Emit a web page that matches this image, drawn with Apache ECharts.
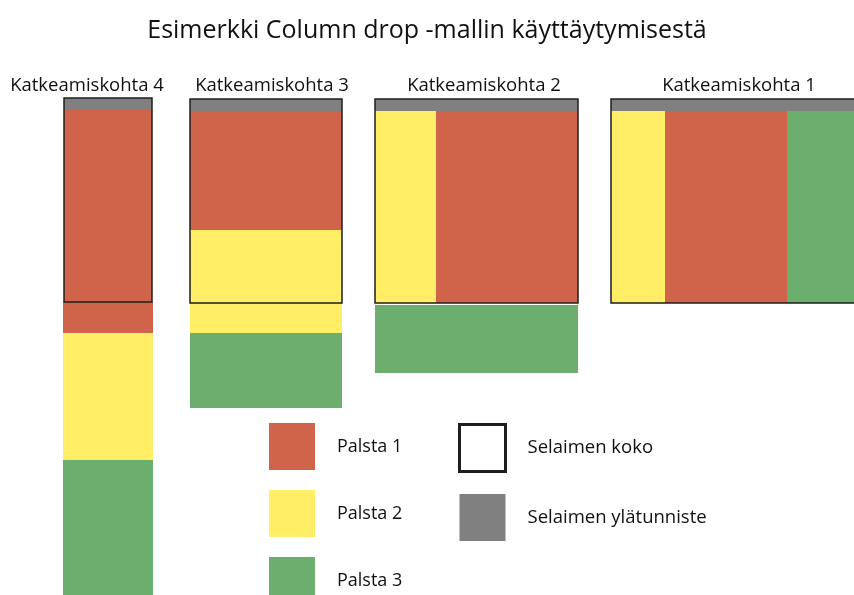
<!DOCTYPE html>
<html>
<head>
<meta charset="utf-8">
<script src="https://cdn.jsdelivr.net/npm/echarts@6/dist/echarts.min.js"></script>
<style>
  html, body { margin: 0; padding: 0; background: #fff; }
  #chart { width: 854px; height: 595px; }
</style>
</head>
<body>
<div id="chart"></div>
<script>
// diagram units = page pixels (x to the right, y downwards)
const breakpoints = ['Katkeamiskohta 4', 'Katkeamiskohta 3', 'Katkeamiskohta 2', 'Katkeamiskohta 1'];
const labelX = [87, 272, 484, 739];
const labelY = 86;

// browser window per breakpoint: [x0, x1, y0, y1]
const windows = [
  [64, 152, 98, 302],
  [190, 342, 99, 303],
  [375, 578, 99, 303],
  [611, 862, 99, 303]
];
const headerHeight = 12;

// column segments: [x0, x1, y0, y1]
const palsta1 = [
  [64, 152, 110, 302], [63, 153, 302, 333],
  [190, 342, 111, 230],
  [436, 578, 111, 303],
  [665, 787, 111, 303]
];
const palsta2 = [
  [63, 153, 333, 460],
  [190, 342, 230, 303], [190, 342, 303, 333],
  [375, 436, 111, 303],
  [611, 665, 111, 303]
];
const palsta3 = [
  [63, 153, 460, 600],
  [190, 342, 333, 408],
  [375, 578, 305, 373],
  [787, 862, 111, 303]
];

const colors = { p1: '#d0644a', p2: '#ffee66', p3: '#6cae6e', head: '#808080', edge: '#1e1e1e' };
const font = '"Open Sans", "Noto Sans", sans-serif';

function rectItem(style) {
  return function (params, api) {
    const a = api.coord([api.value(0), api.value(2)]);
    const b = api.coord([api.value(1), api.value(3)]);
    return {
      type: 'rect',
      shape: { x: a[0], y: a[1], width: b[0] - a[0], height: b[1] - a[1] },
      style: style
    };
  };
}

const headers = windows.map(w => [w[0], w[1], w[2], w[2] + headerHeight]);
const labelData = breakpoints.map((n, i) => [labelX[i], labelY, n]);

const chart = echarts.init(document.getElementById('chart'));
chart.setOption({
  animation: false,
  title: {
    text: 'Esimerkki Column drop -mallin käyttäytymisestä',
    left: 'center',
    top: 13,
    textStyle: { fontFamily: font, fontSize: 25, fontWeight: 'normal', color: '#111' }
  },
  grid: { left: 0, right: 0, top: 0, bottom: 0 },
  xAxis: { type: 'value', min: 0, max: 854, show: false },
  yAxis: { type: 'value', min: 0, max: 595, inverse: true, show: false },
  legend: [
    {
      orient: 'vertical',
      left: 269, top: 423, height: 200, padding: 0,
      itemWidth: 46, itemHeight: 47, itemGap: 20,
      selectedMode: false,
      textStyle: { fontFamily: font, fontSize: 18, color: '#111', padding: [0, 0, 0, 17] },
      data: [
        { name: 'Palsta 1', icon: 'rect', itemStyle: { color: colors.p1 } },
        { name: 'Palsta 2', icon: 'rect', itemStyle: { color: colors.p2 } },
        { name: 'Palsta 3', icon: 'rect', itemStyle: { color: colors.p3 } }
      ]
    },
    {
      orient: 'vertical',
      left: 458, top: 423, height: 200, padding: 0,
      itemWidth: 46, itemHeight: 47, itemGap: 21,
      selectedMode: false,
      textStyle: { fontFamily: font, fontSize: 18.5, color: '#111', padding: [0, 0, 0, 17] },
      data: [
        { name: 'Selaimen koko', icon: 'rect', itemStyle: { color: '#fff', borderColor: colors.edge, borderWidth: 3 } },
        { name: 'Selaimen ylätunniste', icon: 'rect', itemStyle: { color: colors.head } }
      ]
    }
  ],
  series: [
    { name: 'Palsta 1', type: 'custom', data: palsta1, renderItem: rectItem({ fill: colors.p1 }), silent: true },
    { name: 'Palsta 2', type: 'custom', data: palsta2, renderItem: rectItem({ fill: colors.p2 }), silent: true },
    { name: 'Palsta 3', type: 'custom', data: palsta3, renderItem: rectItem({ fill: colors.p3 }), silent: true },
    { name: 'Selaimen ylätunniste', type: 'custom', data: headers, renderItem: rectItem({ fill: colors.head }), silent: true },
    { name: 'Selaimen koko', type: 'custom', data: windows,
      renderItem: rectItem({ fill: null, stroke: colors.edge, lineWidth: 1.5 }), silent: true },
    {
      name: 'labels', type: 'custom', data: labelData, silent: true,
      renderItem: function (params, api) {
        const p = api.coord([api.value(0), api.value(1)]);
        return {
          type: 'text',
          x: p[0], y: p[1],
          style: {
            text: labelData[params.dataIndex][2],
            fontFamily: font, fontSize: 18.5, fill: '#111',
            align: 'center', verticalAlign: 'middle'
          }
        };
      }
    }
  ]
});
</script>
</body>
</html>
